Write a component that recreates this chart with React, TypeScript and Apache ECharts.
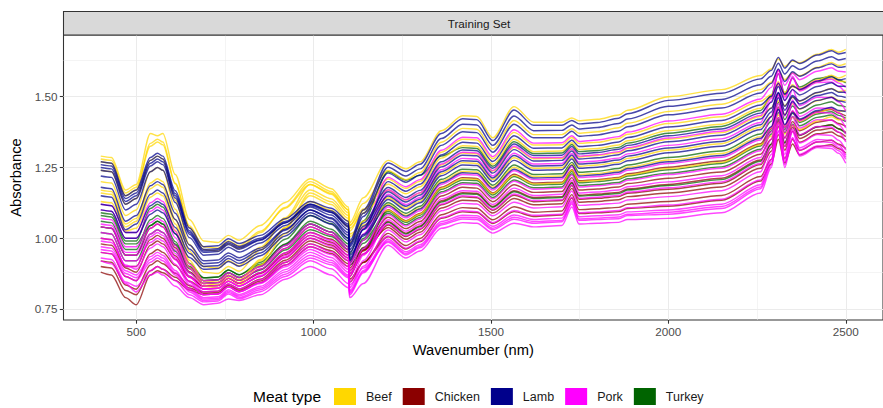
import React, { useEffect, useRef } from "react";
import * as echarts from "echarts";

// Wavelength grid (nm) shared by every spectrum
const waveNm = [
  400, 430, 470, 500, 540, 560, 575, 610, 650, 690, 730, 760, 790, 850, 920, 990, 1050, 1098, 1102, 1140,
  1210, 1260, 1300, 1360, 1420, 1460, 1505, 1565, 1620, 1700, 1728, 1748, 1800, 1860, 1885, 2000, 2150, 2260,
  2290, 2310, 2328, 2350, 2370, 2420, 2460, 2480, 2500,
];

const meatTypes = ["Beef", "Chicken", "Lamb", "Pork", "Turkey"];
const meatColors = ["#FFD700", "#8B0000", "#00008B", "#FF00FF", "#006400"];

// Absorbance spectra, one row per sample, aligned with waveNm
const beefSpectra = [
  [1.29, 1.285, 1.17, 1.19, 1.37, 1.362, 1.37, 1.225, 1.066, 0.99, 0.985, 1.01, 0.993, 1.045, 1.126, 1.21, 1.175, 1.11, 1.055, 1.143,
   1.275, 1.245, 1.27, 1.38, 1.433, 1.43, 1.355, 1.465, 1.41, 1.41, 1.425, 1.415, 1.42, 1.435, 1.452, 1.5, 1.525, 1.575,
   1.598, 1.633, 1.607, 1.626, 1.62, 1.65, 1.667, 1.657, 1.667],
  [1.28, 1.275, 1.16, 1.18, 1.325, 1.34, 1.33, 1.192, 1.044, 0.97, 0.965, 0.99, 0.973, 1.025, 1.106, 1.19, 1.155, 1.09, 1.035, 1.089,
   1.17, 1.135, 1.16, 1.259, 1.301, 1.298, 1.237, 1.321, 1.281, 1.282, 1.315, 1.287, 1.292, 1.302, 1.317, 1.35, 1.373, 1.43,
   1.46, 1.506, 1.468, 1.497, 1.484, 1.514, 1.529, 1.518, 1.523],
  [1.17, 1.165, 1.05, 1.07, 1.195, 1.21, 1.2, 1.066, 0.922, 0.85, 0.845, 0.87, 0.853, 0.925, 1.036, 1.15, 1.119, 1.06, 1.005, 1.06,
   1.143, 1.106, 1.131, 1.228, 1.267, 1.264, 1.207, 1.284, 1.247, 1.249, 1.286, 1.254, 1.259, 1.268, 1.282, 1.311, 1.334, 1.392,
   1.43, 1.486, 1.437, 1.475, 1.456, 1.486, 1.499, 1.487, 1.487],
  [1.24, 1.235, 1.12, 1.14, 1.275, 1.29, 1.28, 1.134, 0.978, 0.9, 0.895, 0.92, 0.903, 0.968, 1.067, 1.17, 1.139, 1.08, 1.025, 1.099,
   1.209, 1.176, 1.201, 1.304, 1.35, 1.347, 1.281, 1.374, 1.329, 1.33, 1.356, 1.335, 1.339, 1.352, 1.367, 1.405, 1.429, 1.484,
   1.507, 1.542, 1.516, 1.535, 1.529, 1.559, 1.576, 1.566, 1.576],
  [1.13, 1.125, 1.025, 1.035, 1.145, 1.16, 1.15, 1.028, 0.896, 0.83, 0.825, 0.85, 0.833, 0.905, 1.016, 1.13, 1.099, 1.04, 0.985, 1.039,
   1.119, 1.081, 1.106, 1.201, 1.236, 1.234, 1.18, 1.251, 1.218, 1.22, 1.261, 1.225, 1.229, 1.238, 1.251, 1.276, 1.299, 1.359,
   1.389, 1.435, 1.397, 1.426, 1.413, 1.443, 1.458, 1.447, 1.452],
  [1.2, 1.195, 1.08, 1.1, 1.235, 1.25, 1.24, 1.102, 0.954, 0.88, 0.875, 0.9, 0.883, 0.958, 1.072, 1.19, 1.159, 1.1, 1.045, 1.103,
   1.191, 1.157, 1.182, 1.283, 1.327, 1.324, 1.261, 1.35, 1.306, 1.308, 1.337, 1.313, 1.317, 1.329, 1.344, 1.38, 1.403, 1.459,
   1.497, 1.553, 1.504, 1.542, 1.523, 1.553, 1.566, 1.554, 1.554],
  [1.27, 1.265, 1.15, 1.17, 1.335, 1.35, 1.34, 1.194, 1.038, 0.96, 0.955, 0.98, 0.963, 1.02, 1.109, 1.2, 1.165, 1.1, 1.045, 1.123,
   1.239, 1.207, 1.232, 1.339, 1.388, 1.385, 1.315, 1.416, 1.366, 1.366, 1.387, 1.371, 1.376, 1.39, 1.406, 1.448, 1.473, 1.525,
   1.551, 1.592, 1.56, 1.584, 1.574, 1.604, 1.621, 1.61, 1.617],
  [1.16, 1.155, 1.04, 1.06, 1.175, 1.19, 1.18, 1.05, 0.91, 0.84, 0.835, 0.86, 0.843, 0.92, 1.038, 1.16, 1.129, 1.07, 1.015, 1.047,
   1.099, 1.06, 1.085, 1.177, 1.21, 1.208, 1.157, 1.222, 1.192, 1.195, 1.24, 1.2, 1.204, 1.212, 1.224, 1.246, 1.268, 1.33,
   1.36, 1.406, 1.368, 1.397, 1.384, 1.414, 1.429, 1.418, 1.423],
];

const chickenSpectra = [
  [0.88, 0.87, 0.79, 0.765, 0.87, 0.885, 0.878, 0.851, 0.817, 0.8, 0.803, 0.828, 0.811, 0.843, 0.905, 0.97, 0.946, 0.9, 0.845, 0.914,
   1.017, 0.974, 0.999, 1.083, 1.108, 1.106, 1.065, 1.111, 1.092, 1.096, 1.154, 1.101, 1.104, 1.109, 1.12, 1.13, 1.151, 1.218,
   1.278, 1.366, 1.282, 1.349, 1.31, 1.34, 1.346, 1.332, 1.317],
  [0.95, 0.945, 0.865, 0.85, 0.945, 0.96, 0.95, 0.904, 0.848, 0.82, 0.823, 0.848, 0.831, 0.865, 0.932, 1.0, 0.976, 0.93, 0.875, 0.944,
   1.047, 1.006, 1.031, 1.118, 1.146, 1.143, 1.099, 1.152, 1.129, 1.133, 1.186, 1.138, 1.141, 1.147, 1.159, 1.173, 1.194, 1.26,
   1.32, 1.408, 1.324, 1.391, 1.352, 1.382, 1.388, 1.374, 1.359],
  [1.0, 0.995, 0.9, 0.9, 0.995, 1.01, 1.0, 0.938, 0.866, 0.83, 0.833, 0.858, 0.841, 0.878, 0.948, 1.02, 0.996, 0.95, 0.895, 0.967,
   1.074, 1.034, 1.059, 1.149, 1.18, 1.177, 1.129, 1.189, 1.162, 1.165, 1.214, 1.17, 1.174, 1.181, 1.193, 1.212, 1.234, 1.297,
   1.35, 1.427, 1.355, 1.412, 1.38, 1.41, 1.418, 1.405, 1.395],
  [1.04, 1.035, 0.94, 0.94, 1.035, 1.05, 1.04, 0.966, 0.882, 0.84, 0.843, 0.868, 0.851, 0.89, 0.964, 1.04, 1.012, 0.96, 0.905, 0.958,
   1.038, 0.996, 1.021, 1.107, 1.134, 1.132, 1.089, 1.14, 1.118, 1.122, 1.176, 1.127, 1.13, 1.136, 1.147, 1.16, 1.181, 1.247,
   1.307, 1.395, 1.311, 1.378, 1.339, 1.369, 1.375, 1.361, 1.346],
  [0.92, 0.915, 0.835, 0.82, 0.905, 0.92, 0.91, 0.876, 0.832, 0.81, 0.813, 0.838, 0.821, 0.855, 0.922, 0.99, 0.966, 0.92, 0.865, 0.959,
   1.101, 1.062, 1.087, 1.18, 1.214, 1.211, 1.16, 1.226, 1.195, 1.198, 1.242, 1.203, 1.207, 1.215, 1.228, 1.251, 1.273, 1.334,
   1.387, 1.464, 1.392, 1.449, 1.417, 1.447, 1.455, 1.442, 1.432],
  [0.98, 0.975, 0.895, 0.88, 0.975, 0.99, 0.98, 0.926, 0.862, 0.83, 0.833, 0.858, 0.841, 0.875, 0.942, 1.01, 0.986, 0.94, 0.885, 0.955,
   1.059, 1.018, 1.043, 1.132, 1.161, 1.159, 1.112, 1.168, 1.144, 1.147, 1.198, 1.152, 1.156, 1.162, 1.174, 1.19, 1.212, 1.276,
   1.332, 1.415, 1.337, 1.399, 1.363, 1.393, 1.401, 1.387, 1.374],
  [0.9, 0.895, 0.815, 0.8, 0.885, 0.9, 0.89, 0.862, 0.824, 0.805, 0.808, 0.833, 0.816, 0.849, 0.914, 0.98, 0.956, 0.91, 0.855, 0.915,
   1.005, 0.962, 0.987, 1.07, 1.093, 1.091, 1.052, 1.094, 1.077, 1.082, 1.142, 1.087, 1.09, 1.094, 1.105, 1.113, 1.134, 1.202,
   1.262, 1.35, 1.266, 1.333, 1.294, 1.324, 1.33, 1.316, 1.301],
];

const lambSpectra = [
  [1.27, 1.265, 1.15, 1.17, 1.285, 1.3, 1.29, 1.168, 1.036, 0.97, 0.973, 0.998, 0.981, 1.01, 1.069, 1.13, 1.106, 1.06, 0.99, 1.1,
   1.266, 1.236, 1.261, 1.37, 1.422, 1.419, 1.345, 1.453, 1.399, 1.399, 1.416, 1.404, 1.409, 1.424, 1.44, 1.487, 1.512, 1.563,
   1.593, 1.639, 1.601, 1.63, 1.617, 1.647, 1.662, 1.651, 1.656],
  [1.26, 1.255, 1.14, 1.16, 1.275, 1.29, 1.28, 1.158, 1.026, 0.96, 0.963, 0.988, 0.971, 1.0, 1.059, 1.12, 1.096, 1.05, 0.98, 1.088,
   1.251, 1.22, 1.245, 1.352, 1.403, 1.4, 1.328, 1.432, 1.38, 1.381, 1.4, 1.386, 1.391, 1.405, 1.421, 1.466, 1.49, 1.542,
   1.572, 1.618, 1.58, 1.609, 1.596, 1.626, 1.641, 1.63, 1.635],
  [1.24, 1.235, 1.12, 1.14, 1.255, 1.27, 1.26, 1.142, 1.014, 0.95, 0.953, 0.978, 0.961, 0.993, 1.055, 1.12, 1.092, 1.04, 0.97, 1.054,
   1.179, 1.144, 1.169, 1.27, 1.312, 1.309, 1.247, 1.333, 1.292, 1.293, 1.324, 1.298, 1.303, 1.314, 1.328, 1.362, 1.386, 1.442,
   1.48, 1.536, 1.487, 1.525, 1.506, 1.536, 1.549, 1.537, 1.537],
  [1.22, 1.215, 1.1, 1.12, 1.235, 1.25, 1.24, 1.126, 1.002, 0.94, 0.943, 0.968, 0.951, 0.983, 1.045, 1.11, 1.082, 1.03, 0.96, 1.042,
   1.164, 1.128, 1.153, 1.252, 1.293, 1.291, 1.23, 1.313, 1.273, 1.275, 1.308, 1.28, 1.284, 1.295, 1.309, 1.341, 1.364, 1.421,
   1.459, 1.515, 1.466, 1.504, 1.485, 1.515, 1.528, 1.516, 1.516],
  [1.18, 1.175, 1.06, 1.08, 1.185, 1.2, 1.19, 1.088, 0.976, 0.92, 0.923, 0.948, 0.931, 0.965, 1.032, 1.1, 1.072, 1.02, 0.95, 1.03,
   1.149, 1.113, 1.138, 1.235, 1.274, 1.272, 1.213, 1.292, 1.255, 1.257, 1.293, 1.262, 1.266, 1.276, 1.29, 1.319, 1.342, 1.401,
   1.446, 1.513, 1.452, 1.5, 1.474, 1.504, 1.515, 1.502, 1.497],
  [1.12, 1.115, 1.02, 1.02, 1.115, 1.13, 1.12, 1.038, 0.946, 0.9, 0.903, 0.928, 0.911, 0.948, 1.018, 1.09, 1.059, 1.0, 0.93, 1.013,
   1.137, 1.1, 1.125, 1.221, 1.259, 1.257, 1.2, 1.275, 1.24, 1.242, 1.28, 1.247, 1.251, 1.261, 1.274, 1.302, 1.325, 1.384,
   1.429, 1.496, 1.435, 1.483, 1.457, 1.487, 1.498, 1.485, 1.48],
  [1.1, 1.095, 1.0, 1.0, 1.085, 1.1, 1.09, 1.016, 0.932, 0.89, 0.893, 0.918, 0.901, 0.938, 1.008, 1.08, 1.049, 0.99, 0.92, 1.032,
   1.2, 1.166, 1.191, 1.294, 1.339, 1.336, 1.271, 1.362, 1.318, 1.319, 1.346, 1.324, 1.328, 1.34, 1.356, 1.393, 1.416, 1.471,
   1.501, 1.547, 1.509, 1.538, 1.525, 1.555, 1.57, 1.559, 1.564],
  [1.25, 1.245, 1.13, 1.15, 1.265, 1.28, 1.27, 1.15, 1.02, 0.955, 0.958, 0.983, 0.966, 0.995, 1.054, 1.115, 1.091, 1.045, 0.975, 1.077,
   1.23, 1.198, 1.223, 1.328, 1.376, 1.373, 1.304, 1.403, 1.355, 1.355, 1.378, 1.36, 1.365, 1.378, 1.394, 1.436, 1.46, 1.513,
   1.547, 1.598, 1.554, 1.588, 1.572, 1.602, 1.616, 1.604, 1.607],
  [1.15, 1.145, 1.03, 1.05, 1.155, 1.17, 1.16, 1.066, 0.962, 0.91, 0.913, 0.938, 0.921, 0.958, 1.028, 1.1, 1.069, 1.01, 0.94, 1.008,
   1.116, 1.078, 1.103, 1.196, 1.231, 1.229, 1.176, 1.244, 1.213, 1.215, 1.258, 1.22, 1.224, 1.233, 1.246, 1.27, 1.292, 1.353,
   1.394, 1.456, 1.401, 1.444, 1.421, 1.451, 1.463, 1.451, 1.448],
];

const porkSpectra = [
  [1.12, 1.115, 1.02, 1.02, 1.125, 1.14, 1.13, 1.024, 0.908, 0.85, 0.853, 0.878, 0.861, 0.9, 0.974, 1.05, 1.022, 0.97, 0.915, 1.035,
   1.215, 1.182, 1.207, 1.311, 1.357, 1.355, 1.288, 1.383, 1.336, 1.337, 1.362, 1.342, 1.347, 1.359, 1.375, 1.414, 1.438, 1.492,
   1.533, 1.595, 1.54, 1.583, 1.56, 1.59, 1.602, 1.59, 1.587],
  [1.07, 1.065, 0.97, 0.97, 1.055, 1.07, 1.06, 0.974, 0.878, 0.83, 0.833, 0.858, 0.841, 0.878, 0.948, 1.02, 0.992, 0.94, 0.885, 0.993,
   1.155, 1.119, 1.144, 1.242, 1.282, 1.279, 1.22, 1.3, 1.262, 1.264, 1.299, 1.269, 1.273, 1.283, 1.298, 1.328, 1.351, 1.409,
   1.484, 1.593, 1.486, 1.572, 1.52, 1.55, 1.552, 1.536, 1.511],
  [1.04, 1.035, 0.94, 0.94, 1.015, 1.03, 1.02, 0.946, 0.862, 0.82, 0.823, 0.848, 0.831, 0.865, 0.932, 1.0, 0.972, 0.92, 0.865, 0.963,
   1.11, 1.072, 1.097, 1.19, 1.225, 1.223, 1.17, 1.238, 1.207, 1.209, 1.252, 1.214, 1.218, 1.227, 1.24, 1.264, 1.286, 1.347,
   1.43, 1.549, 1.431, 1.526, 1.468, 1.498, 1.497, 1.481, 1.451],
  [1.02, 1.015, 0.92, 0.92, 0.985, 1.0, 0.99, 0.924, 0.848, 0.81, 0.813, 0.838, 0.821, 0.853, 0.915, 0.98, 0.952, 0.9, 0.845, 0.94,
   1.083, 1.043, 1.068, 1.159, 1.191, 1.189, 1.139, 1.201, 1.173, 1.176, 1.223, 1.181, 1.185, 1.192, 1.205, 1.225, 1.247, 1.309,
   1.392, 1.511, 1.393, 1.488, 1.43, 1.46, 1.459, 1.443, 1.413],
  [0.99, 0.985, 0.905, 0.89, 0.965, 0.98, 0.97, 0.908, 0.836, 0.8, 0.803, 0.828, 0.811, 0.84, 0.899, 0.96, 0.932, 0.88, 0.825, 0.921,
   1.065, 1.025, 1.05, 1.139, 1.168, 1.166, 1.119, 1.177, 1.151, 1.155, 1.205, 1.16, 1.163, 1.17, 1.182, 1.199, 1.221, 1.285,
   1.375, 1.505, 1.375, 1.48, 1.415, 1.445, 1.442, 1.425, 1.39],
  [0.97, 0.965, 0.885, 0.87, 0.935, 0.95, 0.94, 0.886, 0.822, 0.79, 0.793, 0.818, 0.801, 0.83, 0.889, 0.95, 0.922, 0.87, 0.815, 0.901,
   1.029, 0.987, 1.012, 1.097, 1.123, 1.121, 1.079, 1.127, 1.107, 1.111, 1.167, 1.116, 1.119, 1.124, 1.135, 1.147, 1.168, 1.235,
   1.325, 1.455, 1.325, 1.43, 1.365, 1.395, 1.392, 1.375, 1.34],
  [0.95, 0.945, 0.865, 0.85, 0.915, 0.93, 0.92, 0.87, 0.81, 0.78, 0.783, 0.808, 0.791, 0.818, 0.873, 0.93, 0.906, 0.86, 0.805, 0.886,
   1.008, 0.965, 0.99, 1.073, 1.097, 1.094, 1.055, 1.098, 1.081, 1.085, 1.145, 1.09, 1.093, 1.098, 1.108, 1.117, 1.138, 1.206,
   1.296, 1.426, 1.296, 1.401, 1.336, 1.366, 1.363, 1.346, 1.311],
  [0.93, 0.925, 0.845, 0.83, 0.885, 0.9, 0.89, 0.85, 0.8, 0.775, 0.778, 0.803, 0.786, 0.811, 0.865, 0.92, 0.892, 0.84, 0.8, 0.878,
   0.996, 0.952, 0.977, 1.059, 1.081, 1.079, 1.042, 1.082, 1.066, 1.071, 1.132, 1.076, 1.079, 1.083, 1.093, 1.1, 1.12, 1.189,
   1.279, 1.409, 1.279, 1.384, 1.319, 1.349, 1.346, 1.329, 1.294],
  [0.92, 0.91, 0.84, 0.81, 0.87, 0.88, 0.87, 0.83, 0.79, 0.765, 0.77, 0.785, 0.78, 0.8, 0.855, 0.9, 0.87, 0.825, 0.79, 0.84,
   0.975, 0.93, 0.955, 1.035, 1.055, 1.053, 1.018, 1.053, 1.04, 1.045, 1.11, 1.05, 1.053, 1.056, 1.066, 1.07, 1.09, 1.16,
   1.25, 1.38, 1.25, 1.355, 1.29, 1.32, 1.317, 1.3, 1.265],
  [1.0, 0.995, 0.9, 0.9, 1.005, 1.02, 1.01, 0.932, 0.844, 0.8, 0.803, 0.828, 0.811, 0.843, 0.905, 0.97, 0.942, 0.89, 0.835, 0.895,
   0.986, 0.941, 0.966, 1.047, 1.068, 1.066, 1.03, 1.067, 1.053, 1.058, 1.121, 1.063, 1.066, 1.069, 1.08, 1.085, 1.105, 1.175,
   1.258, 1.377, 1.259, 1.354, 1.296, 1.326, 1.325, 1.309, 1.279],
  [1.05, 1.045, 0.95, 0.95, 1.035, 1.05, 1.04, 0.958, 0.866, 0.82, 0.823, 0.848, 0.831, 0.868, 0.938, 1.01, 0.982, 0.93, 0.875, 0.945,
   1.05, 1.009, 1.034, 1.121, 1.15, 1.147, 1.102, 1.156, 1.133, 1.136, 1.189, 1.141, 1.145, 1.151, 1.163, 1.178, 1.199, 1.264,
   1.35, 1.475, 1.351, 1.451, 1.389, 1.419, 1.417, 1.401, 1.368],
  [0.96, 0.955, 0.875, 0.86, 0.925, 0.94, 0.93, 0.878, 0.816, 0.785, 0.788, 0.813, 0.796, 0.824, 0.881, 0.94, 0.914, 0.865, 0.81, 0.882,
   0.99, 0.946, 0.971, 1.052, 1.074, 1.072, 1.035, 1.074, 1.059, 1.063, 1.126, 1.068, 1.071, 1.075, 1.085, 1.092, 1.112, 1.181,
   1.271, 1.401, 1.271, 1.376, 1.311, 1.341, 1.338, 1.321, 1.286],
  [1.1, 1.095, 1.0, 1.0, 1.095, 1.11, 1.1, 1.002, 0.894, 0.84, 0.843, 0.868, 0.851, 0.89, 0.964, 1.04, 1.012, 0.96, 0.905, 1.015,
   1.171, 1.136, 1.161, 1.262, 1.304, 1.301, 1.239, 1.325, 1.284, 1.285, 1.316, 1.29, 1.295, 1.306, 1.32, 1.354, 1.378, 1.434,
   1.494, 1.582, 1.498, 1.565, 1.526, 1.556, 1.562, 1.548, 1.533],
];

const turkeySpectra = [
  [1.09, 1.085, 0.99, 0.99, 1.105, 1.12, 1.11, 1.016, 0.912, 0.86, 0.863, 0.888, 0.871, 0.915, 0.996, 1.08, 1.052, 1.0, 0.945, 1.061,
   1.235, 1.205, 1.222, 1.29, 1.32, 1.317, 1.254, 1.341, 1.299, 1.301, 1.331, 1.306, 1.31, 1.321, 1.336, 1.371, 1.395, 1.451,
   1.504, 1.581, 1.509, 1.566, 1.534, 1.564, 1.572, 1.559, 1.549],
  [1.06, 1.055, 0.96, 0.96, 1.065, 1.08, 1.07, 0.988, 0.896, 0.85, 0.853, 0.878, 0.861, 0.903, 0.98, 1.06, 1.032, 0.98, 0.925, 0.993,
   1.095, 1.056, 1.081, 1.173, 1.206, 1.204, 1.153, 1.218, 1.188, 1.191, 1.236, 1.196, 1.2, 1.208, 1.22, 1.242, 1.264, 1.326,
   1.379, 1.456, 1.384, 1.441, 1.409, 1.439, 1.447, 1.434, 1.424],
  [1.02, 1.015, 0.92, 0.92, 1.015, 1.03, 1.02, 0.954, 0.878, 0.84, 0.843, 0.868, 0.851, 0.888, 0.958, 1.03, 1.006, 0.96, 0.905, 0.965,
   1.056, 1.015, 1.04, 1.128, 1.157, 1.155, 1.109, 1.164, 1.14, 1.144, 1.195, 1.149, 1.152, 1.158, 1.17, 1.186, 1.207, 1.272,
   1.332, 1.42, 1.336, 1.403, 1.364, 1.394, 1.4, 1.386, 1.371],
  [1.08, 1.075, 0.98, 0.98, 1.045, 1.06, 1.05, 0.98, 0.9, 0.86, 0.863, 0.888, 0.871, 0.908, 0.978, 1.05, 1.022, 0.97, 0.915, 0.999,
   1.125, 1.088, 1.113, 1.208, 1.244, 1.242, 1.187, 1.259, 1.225, 1.228, 1.268, 1.233, 1.237, 1.246, 1.259, 1.285, 1.308, 1.368,
   1.413, 1.48, 1.419, 1.467, 1.441, 1.471, 1.482, 1.469, 1.464],
  [1.04, 1.035, 0.94, 0.94, 1.045, 1.06, 1.05, 0.976, 0.892, 0.85, 0.853, 0.878, 0.861, 0.9, 0.974, 1.05, 1.022, 0.97, 0.915, 0.982,
   1.088, 1.048, 1.073, 1.164, 1.196, 1.194, 1.144, 1.206, 1.178, 1.181, 1.228, 1.186, 1.19, 1.197, 1.21, 1.23, 1.252, 1.314,
   1.367, 1.444, 1.372, 1.429, 1.397, 1.427, 1.435, 1.422, 1.412],
];

const xTicks = [500, 1000, 1500, 2000, 2500];
const xMinorTicks = [750, 1250, 1750, 2250];
const yTicks = [0.75, 1.0, 1.25, 1.5];
const yMinorTicks = [0.875, 1.125, 1.375, 1.625];

const FONT = "'Liberation Sans', Arial, Helvetica, sans-serif";

export default function App() {
  const ref = useRef<HTMLDivElement>(null);

  useEffect(() => {
    if (!ref.current) return;
    const chart = echarts.init(ref.current, undefined, { renderer: "svg" });

    const spectraByType: Record<string, number[][]> = {
      Beef: beefSpectra,
      Chicken: chickenSpectra,
      Lamb: lambSpectra,
      Pork: porkSpectra,
      Turkey: turkeySpectra,
    };
    const drawOrder = ["Chicken", "Turkey", "Beef", "Pork", "Lamb"];

    const spectrumSeries: any[] = [];
    drawOrder.forEach((type) => {
      const color = meatColors[meatTypes.indexOf(type)];
      spectraByType[type].forEach((row) => {
        spectrumSeries.push({
          type: "line",
          name: type,
          data: waveNm.map((w, i) => [w, row[i]]),
          showSymbol: false,
          symbol: "none",
          smooth: 0.3,
          smoothMonotone: "x",
          silent: true,
          z: 3,
          itemStyle: { color },
          lineStyle: { color, width: 1.45, opacity: 0.72 },
          emphasis: { disabled: true },
        });
      });
    });

    const major = { color: "#EBEBEB", width: 1.07, type: "solid" };
    const minor = { color: "#EBEBEB", width: 0.55, type: "solid" };
    const gridSeries = {
      type: "line",
      data: [[295, 0.711]],
      showSymbol: false,
      symbol: "none",
      silent: true,
      z: 1,
      lineStyle: { opacity: 0 },
      markLine: {
        silent: true,
        z: 1,
        symbol: ["none", "none"],
        label: { show: false },
        animation: false,
        emphasis: { disabled: true },
        data: [
          ...xMinorTicks.map((v) => ({ xAxis: v, lineStyle: minor })),
          ...yMinorTicks.map((v) => ({ yAxis: v, lineStyle: minor })),
          ...xTicks.map((v) => ({ xAxis: v, lineStyle: major })),
          ...yTicks.map((v) => ({ yAxis: v, lineStyle: major })),
        ],
      },
    };

    chart.setOption({
      animation: false,
      backgroundColor: "#FFFFFF",
      textStyle: { fontFamily: FONT },
      grid: {
        left: 63.5,
        top: 35,
        right: -12,
        bottom: 88,
        show: true,
        backgroundColor: "#FFFFFF",
        borderColor: "#333333",
        borderWidth: 1.07,
      },
      xAxis: {
        type: "value",
        min: 295,
        max: 2605,
        name: "Wavenumber (nm)",
        nameLocation: "middle",
        nameGap: 22,
        nameTextStyle: { fontSize: 14.7, color: "#000000", fontFamily: FONT },
        axisLine: { show: false },
        axisTick: {
          show: true,
          length: 3.7,
          customValues: xTicks,
          lineStyle: { color: "#333333", width: 1.07 },
        },
        axisLabel: {
          customValues: xTicks,
          fontSize: 11.7,
          color: "#4D4D4D",
          margin: 5,
          fontFamily: FONT,
          formatter: (v: number) => String(v),
        },
        splitLine: { show: false },
      },
      yAxis: {
        type: "value",
        min: 0.711,
        max: 1.718,
        name: "Absorbance",
        nameLocation: "middle",
        nameGap: 38,
        nameTextStyle: { fontSize: 14.7, color: "#000000", fontFamily: FONT },
        axisLine: { show: false },
        axisTick: {
          show: true,
          length: 3.7,
          customValues: yTicks,
          lineStyle: { color: "#333333", width: 1.07 },
        },
        axisLabel: {
          customValues: yTicks,
          fontSize: 11.7,
          color: "#4D4D4D",
          margin: 6,
          fontFamily: FONT,
          formatter: (v: number) => v.toFixed(2),
        },
        splitLine: { show: false },
      },
      legend: {
        show: true,
        left: 334,
        top: 388,
        padding: 0,
        itemWidth: 22,
        itemHeight: 17,
        itemGap: 11,
        icon: "rect",
        selectedMode: false,
        data: meatTypes.map((name, i) => ({
          name,
          itemStyle: { color: meatColors[i], opacity: 1, borderWidth: 0 },
        })),
        textStyle: { fontSize: 12.5, color: "#1A1A1A", fontFamily: FONT, padding: [0, 0, 0, 5] },
      },
      graphic: [
        {
          type: "rect",
          z: 10,
          shape: { x: 63.5, y: 11.5, width: 840, height: 23.5 },
          style: { fill: "#D9D9D9", stroke: "#333333", lineWidth: 1.07 },
        },
        {
          type: "text",
          z: 11,
          x: 479,
          y: 23.5,
          style: {
            text: "Training Set",
            fontSize: 11.7,
            fontFamily: FONT,
            fill: "#1A1A1A",
            align: "center",
            verticalAlign: "middle",
          },
        },
        {
          type: "text",
          z: 11,
          x: 253,
          y: 396.5,
          style: {
            text: "Meat type",
            fontSize: 15.5,
            fontFamily: FONT,
            fill: "#000000",
            align: "left",
            verticalAlign: "middle",
          },
        },
      ],
      series: [gridSeries, ...spectrumSeries],
    });

    return () => chart.dispose();
  }, []);

  return (
    <div
      ref={ref}
      style={{ position: "absolute", left: 0, top: 0, width: 883, height: 408, background: "#FFFFFF" }}
    />
  );
}
